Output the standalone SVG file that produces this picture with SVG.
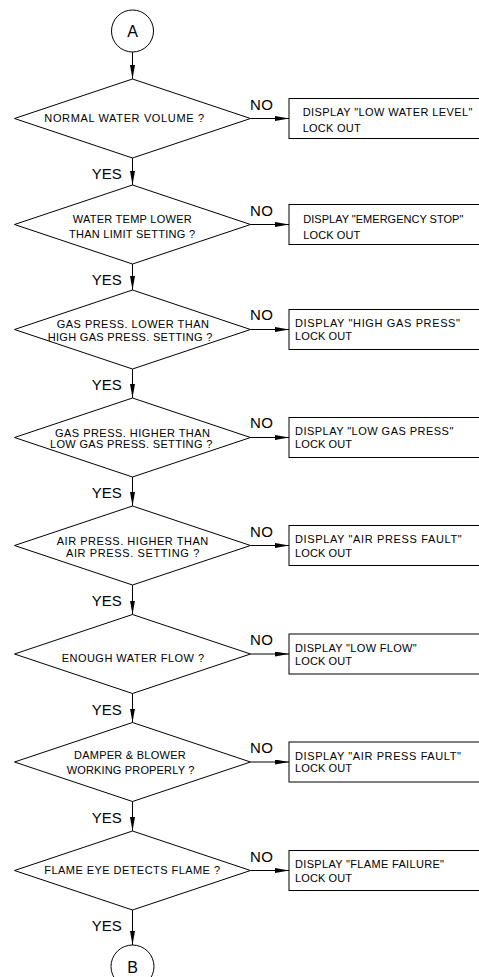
<svg xmlns="http://www.w3.org/2000/svg" width="479" height="977" viewBox="0 0 479 977">
<style>
.s{fill:none;stroke:#000;stroke-width:1}
.box{fill:#fff;stroke:#000;stroke-width:1}
.t{font-family:"Liberation Sans",Arial,sans-serif;font-size:11px;fill:#000}
.l{font-family:"Liberation Sans",Arial,sans-serif;font-size:15px;fill:#000}
.c{font-family:"Liberation Sans",Arial,sans-serif;font-size:16px;fill:#000;text-anchor:middle}
.e{stroke:#000;stroke-width:1;fill:none;marker-end:url(#ah)}
</style>
<defs>
<marker id="ah" viewBox="0 0 14 5" refX="14" refY="2.5" markerWidth="14" markerHeight="5" markerUnits="userSpaceOnUse" orient="auto">
<path d="M0,0 L14,2.5 L0,5 z" fill="#000"/>
</marker>
</defs>
<rect width="479" height="977" fill="#fff"/>

<g id="connectors">
<line class="e" x1="132.5" y1="52" x2="132.5" y2="79"/>
<line class="e" x1="132.5" y1="158" x2="132.5" y2="185"/>
<line class="e" x1="132.5" y1="264" x2="132.5" y2="290"/>
<line class="e" x1="132.5" y1="369" x2="132.5" y2="398"/>
<line class="e" x1="132.5" y1="477" x2="132.5" y2="506"/>
<line class="e" x1="132.5" y1="585" x2="132.5" y2="614.5"/>
<line class="e" x1="132.5" y1="693.5" x2="132.5" y2="722.5"/>
<line class="e" x1="132.5" y1="801.5" x2="132.5" y2="831"/>
<line class="e" x1="132.5" y1="910" x2="132.5" y2="945"/>
<line class="e" x1="250.5" y1="118.5" x2="289" y2="118.5"/>
<line class="e" x1="250.5" y1="224.5" x2="289" y2="224.5"/>
<line class="e" x1="250.5" y1="329.5" x2="289" y2="329.5"/>
<line class="e" x1="250.5" y1="437.5" x2="289" y2="437.5"/>
<line class="e" x1="250.5" y1="545.5" x2="289" y2="545.5"/>
<line class="e" x1="250.5" y1="654" x2="289" y2="654"/>
<line class="e" x1="250.5" y1="762" x2="289" y2="762"/>
<line class="e" x1="250.5" y1="870.5" x2="289" y2="870.5"/>
<text class="l" x="250" y="109.5" textLength="23">NO</text>
<text class="l" x="250" y="215.5" textLength="23">NO</text>
<text class="l" x="250" y="320" textLength="23">NO</text>
<text class="l" x="250" y="428" textLength="23">NO</text>
<text class="l" x="250" y="536.5" textLength="23">NO</text>
<text class="l" x="250" y="645" textLength="23">NO</text>
<text class="l" x="250" y="753" textLength="23">NO</text>
<text class="l" x="250" y="861.5" textLength="23">NO</text>
<text class="l" x="91.7" y="179" textLength="30">YES</text>
<text class="l" x="91.7" y="285" textLength="30">YES</text>
<text class="l" x="91.7" y="390" textLength="30">YES</text>
<text class="l" x="91.7" y="498" textLength="30">YES</text>
<text class="l" x="91.7" y="606" textLength="30">YES</text>
<text class="l" x="91.7" y="714.5" textLength="30">YES</text>
<text class="l" x="91.7" y="822.5" textLength="30">YES</text>
<text class="l" x="91.7" y="931" textLength="30">YES</text>
</g>

<g id="startA">
<circle class="s" cx="132.5" cy="31" r="21"/>
<text class="c" x="132.5" y="36.8">A</text>
</g>

<g id="d1">
<polygon class="s" points="14.5,118.5 132.5,79 250.5,118.5 132.5,158"/>
<text class="t" x="44.3" y="121.7" textLength="159.7">NORMAL WATER VOLUME ?</text>
</g>
<g id="d2">
<polygon class="s" points="14.5,224.5 132.5,185 250.5,224.5 132.5,264"/>
<text class="t" x="72.7" y="222.7" textLength="119">WATER TEMP LOWER</text>
<text class="t" x="69" y="237.7" textLength="126">THAN LIMIT SETTING ?</text>
</g>
<g id="d3">
<polygon class="s" points="14.5,329.5 132.5,290 250.5,329.5 132.5,369"/>
<text class="t" x="56.7" y="327.7" textLength="152.3">GAS PRESS. LOWER THAN</text>
<text class="t" x="47.7" y="340.7" textLength="164.6">HIGH GAS PRESS. SETTING ?</text>
</g>
<g id="d4">
<polygon class="s" points="14.5,437.5 132.5,398 250.5,437.5 132.5,477"/>
<text class="t" x="55" y="436.7" textLength="155">GAS PRESS. HIGHER THAN</text>
<text class="t" x="50" y="448" textLength="162.3">LOW GAS PRESS. SETTING ?</text>
</g>
<g id="d5">
<polygon class="s" points="14.5,545.5 132.5,506 250.5,545.5 132.5,585"/>
<text class="t" x="56.7" y="545" textLength="151.6">AIR PRESS. HIGHER THAN</text>
<text class="t" x="66" y="556.7" textLength="133.3">AIR PRESS. SETTING ?</text>
</g>
<g id="d6">
<polygon class="s" points="14.5,654 132.5,614.5 250.5,654 132.5,693.5"/>
<text class="t" x="61.7" y="661.5" textLength="142.3">ENOUGH WATER FLOW ?</text>
</g>
<g id="d7">
<polygon class="s" points="14.5,762 132.5,722.5 250.5,762 132.5,801.5"/>
<text class="t" x="74" y="759.3" textLength="111.7">DAMPER &amp; BLOWER</text>
<text class="t" x="66.7" y="774" textLength="127.6">WORKING PROPERLY ?</text>
</g>
<g id="d8">
<polygon class="s" points="14.5,870.5 132.5,831 250.5,870.5 132.5,910"/>
<text class="t" x="44.3" y="874.3" textLength="175.7">FLAME EYE DETECTS FLAME ?</text>
</g>

<g id="b1">
<rect class="box" x="289" y="98.5" width="200" height="40"/>
<text class="t" x="302.7" y="116" textLength="169.6">DISPLAY "LOW WATER LEVEL"</text>
<text class="t" x="302.7" y="131.7" textLength="58">LOCK OUT</text>
</g>
<g id="b2">
<rect class="box" x="289" y="204.5" width="200" height="40"/>
<text class="t" x="303.3" y="222.7" textLength="160">DISPLAY "EMERGENCY STOP"</text>
<text class="t" x="303.3" y="239" textLength="57">LOCK OUT</text>
</g>
<g id="b3">
<rect class="box" x="289" y="309.5" width="200" height="40"/>
<text class="t" x="295" y="326.7" textLength="165">DISPLAY "HIGH GAS PRESS"</text>
<text class="t" x="295" y="339.5" textLength="57">LOCK OUT</text>
</g>
<g id="b4">
<rect class="box" x="289" y="417.5" width="200" height="40"/>
<text class="t" x="295" y="435" textLength="158.3">DISPLAY "LOW GAS PRESS"</text>
<text class="t" x="295" y="447.5" textLength="57">LOCK OUT</text>
</g>
<g id="b5">
<rect class="box" x="289" y="525.5" width="200" height="40"/>
<text class="t" x="295" y="543.3" textLength="166.7">DISPLAY "AIR PRESS FAULT"</text>
<text class="t" x="295" y="556.7" textLength="57">LOCK OUT</text>
</g>
<g id="b6">
<rect class="box" x="289" y="634" width="200" height="40"/>
<text class="t" x="295" y="651.7" textLength="121.7">DISPLAY "LOW FLOW"</text>
<text class="t" x="295" y="665" textLength="57">LOCK OUT</text>
</g>
<g id="b7">
<rect class="box" x="289" y="742" width="200" height="40"/>
<text class="t" x="295" y="760" textLength="166">DISPLAY "AIR PRESS FAULT"</text>
<text class="t" x="295" y="772" textLength="57">LOCK OUT</text>
</g>
<g id="b8">
<rect class="box" x="289" y="850.5" width="200" height="40"/>
<text class="t" x="295" y="867.7" textLength="149">DISPLAY "FLAME FAILURE"</text>
<text class="t" x="295" y="881.7" textLength="57">LOCK OUT</text>
</g>

<g id="endB">
<circle class="s" cx="132.5" cy="966.5" r="21.5"/>
<text class="c" x="132.5" y="972.5">B</text>
</g>
</svg>
